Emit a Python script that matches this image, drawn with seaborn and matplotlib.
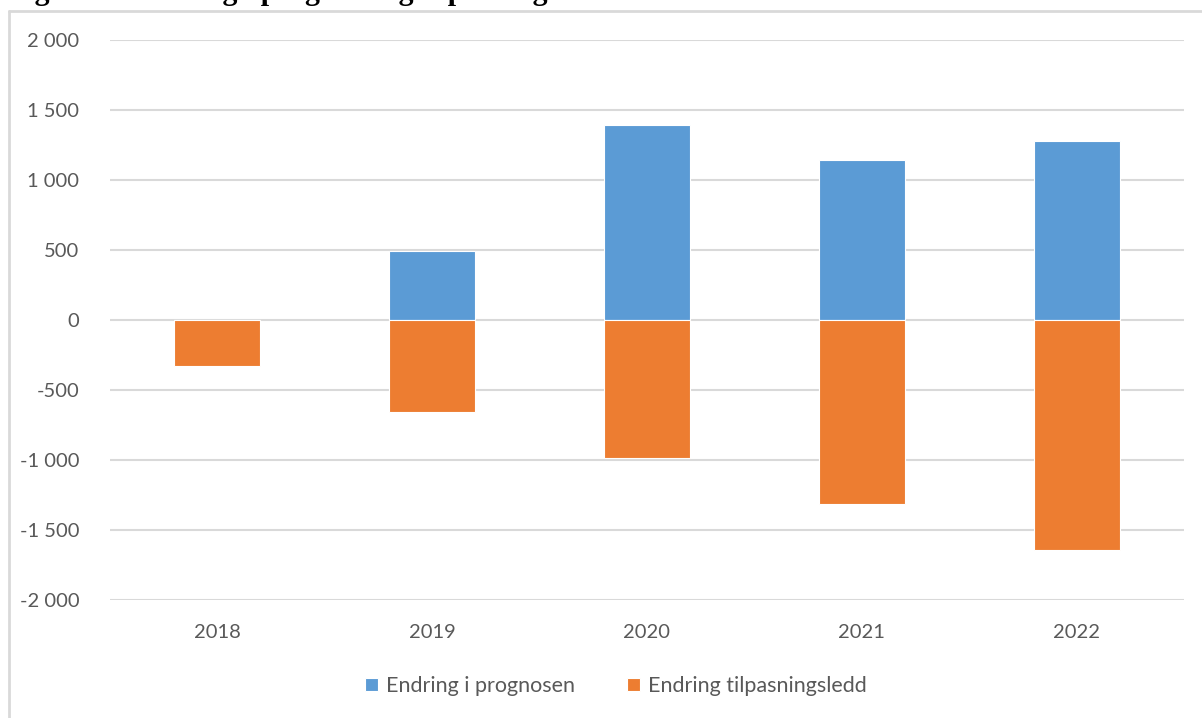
import matplotlib
matplotlib.use("Agg")
import matplotlib.pyplot as plt
from matplotlib.lines import Line2D
from matplotlib.ticker import FuncFormatter
import seaborn as sns
import pandas as pd

# Data (endring per år)
years = ["2018", "2019", "2020", "2021", "2022"]
prognose = [0, 490, 1390, 1140, 1280]
tilpasning = [-330, -660, -985, -1315, -1645]
series_names = ["Endring i prognosen", "Endring tilpasningsledd"]
y_ticks = [-2000, -1500, -1000, -500, 0, 500, 1000, 1500, 2000]
title = "Figur 5.2 Endring i prognose og tilpasningsledd"

df = pd.DataFrame({
    "year": years * 2,
    "value": prognose + tilpasning,
    "series": [series_names[0]] * len(years) + [series_names[1]] * len(years),
})

sns.set_theme(style="white")
plt.rcParams["font.family"] = ["Lato", "DejaVu Sans"]

W, H = 1202, 718
fig = plt.figure(figsize=(W / 100, H / 100), dpi=100)
ax = fig.add_axes([110 / W, 1 - 600 / H, (1184 - 110) / W, (600 - 40) / H])

palette = {series_names[0]: "#5B9BD5", series_names[1]: "#ED7D31"}
sns.barplot(data=df, x="year", y="value", hue="series", dodge=False,
            palette=palette, saturation=1, width=0.4, ax=ax,
            edgecolor="white", linewidth=0.8, zorder=3, legend=True)

ax.set_ylim(-2000, 2000)
ax.set_yticks(y_ticks)
ax.yaxis.set_major_formatter(FuncFormatter(
    lambda v, _: f"{int(v):,}".replace(",", " ")))
ax.grid(axis="y", color="#D9D9D9", linewidth=1.5, zorder=0)
ax.set_axisbelow(True)
for s in ax.spines.values():
    s.set_visible(False)
ax.set_xlabel("")
ax.set_ylabel("")
ax.tick_params(axis="both", length=0, labelsize=14.5, labelcolor="#595959")
ax.tick_params(axis="y", pad=22)
ax.tick_params(axis="x", pad=17)

handles, labels = ax.get_legend_handles_labels()
ax.legend_.remove()
fig.legend(handles, labels, loc="center", bbox_to_anchor=(616 / W, 1 - 686 / H),
           ncol=2, frameon=False, fontsize=15.5, labelcolor="#595959",
           handlelength=0.6, handleheight=0.6, handletextpad=0.4,
           columnspacing=2.4)

# Chart frame (top and left edges)
frame_col = "#D9D9D9"
fig.add_artist(Line2D([9 / W, 1.0], [1 - 11 / H, 1 - 11 / H],
                      transform=fig.transFigure, color=frame_col, linewidth=2))
fig.add_artist(Line2D([9 / W, 9 / W], [0, 1 - 11 / H],
                      transform=fig.transFigure, color=frame_col, linewidth=2))

# Caption above the chart
fig.text(8 / W, 1.0, title, ha="left", va="baseline",
         fontsize=21.5, fontweight="bold", color="black",
         family=["Liberation Serif", "DejaVu Serif"])

fig.savefig("out.png", dpi=100, facecolor="white")
